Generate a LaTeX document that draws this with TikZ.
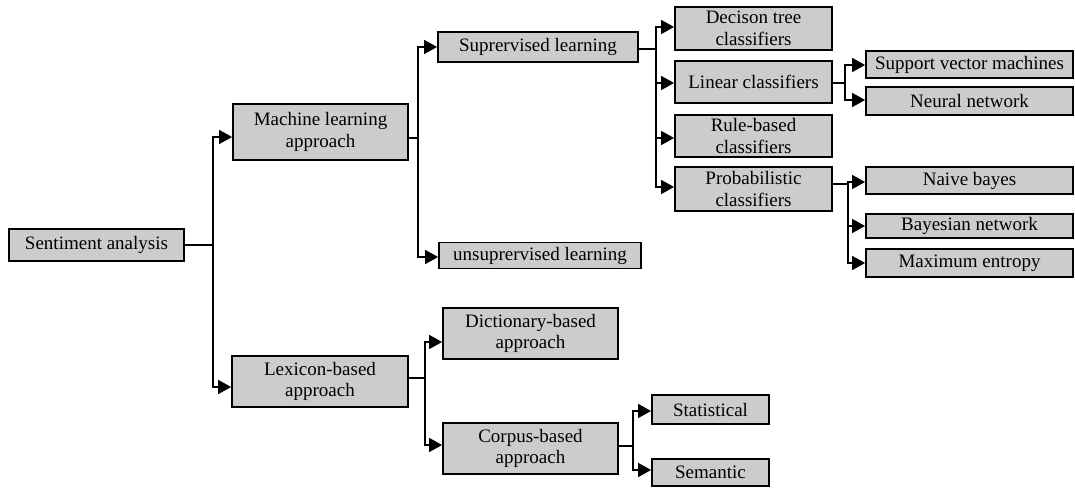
\documentclass[tikz,border=0pt]{standalone}
\usepackage{fontspec}
\setmainfont{Liberation Serif}
\usetikzlibrary{arrows.meta}
\tikzset{
  box/.style={draw=black, fill=black!20, line width=1.8pt, inner sep=0pt, align=center,
    font=\fontsize{19}{21.5}\selectfont},
  line/.style={draw=black, line width=1.6pt},
  arr/.style={line, -{Triangle[length=13pt,width=14pt]}}
}
\begin{document}
\begin{tikzpicture}[x=1pt,y=-1pt]
\useasboundingbox (0,0) rectangle (1075,487);
% nodes
\node[box, minimum width=175, minimum height=32] (sa) at (96.5,245) {Sentiment analysis};
\node[box, minimum width=175, minimum height=56] (ml) at (320.5,132) {Machine learning\\approach};
\node[box, minimum width=176, minimum height=51] (lx) at (320,381.5) {Lexicon-based\\approach};
\node[box, minimum width=200, minimum height=30] (su) at (538,47) {Suprervised learning};
\node[box, minimum width=202, minimum height=26] (un) at (540,255.5) {unsuprervised learning};
\node[box, minimum width=157, minimum height=43] (dt) at (753.5,28.5) {Decison tree\\classifiers};
\node[box, minimum width=157, minimum height=42] (lc) at (753.5,82) {Linear classifiers};
\node[box, minimum width=157, minimum height=42] (rb) at (753.5,136) {Rule-based\\classifiers};
\node[box, minimum width=157, minimum height=44] (pc) at (753.5,189) {Probabilistic\\classifiers};
\node[box, minimum width=207, minimum height=27] (svm) at (969.5,64.5) {Support vector machines};
\node[box, minimum width=207, minimum height=28] (nn) at (969.5,101) {Neural network};
\node[box, minimum width=207, minimum height=27] (nb) at (969.5,180.5) {Naive bayes};
\node[box, minimum width=207, minimum height=24] (bn) at (969.5,226) {Bayesian network};
\node[box, minimum width=207, minimum height=28] (me) at (969.5,263) {Maximum entropy};
\node[box, minimum width=175, minimum height=51] (di) at (530.5,333.5) {Dictionary-based\\approach};
\node[box, minimum width=175, minimum height=51] (co) at (530.5,448.5) {Corpus-based\\approach};
\node[box, minimum width=117, minimum height=29] (st) at (710.5,409.5) {Statistical};
\node[box, minimum width=117, minimum height=27] (se) at (710.5,472.5) {Semantic};
% junctions
\coordinate (j1) at (213,245);
\coordinate (j2) at (418,138);
\coordinate (j3) at (656,49);
\coordinate (j4) at (845,83);
\coordinate (j5) at (848,184);
\coordinate (j6) at (425,378);
\coordinate (j7) at (633,446);
% connectors
\draw[line] (sa.east) -- (j1);
\draw[arr] (j1) |- (ml.west |- 0,137);
\draw[arr] (j1) |- (lx.west |- 0,387);
\draw[line] (ml.east |- j2) -- (j2);
\draw[arr] (j2) |- (su.west |- 0,47);
\draw[arr] (j2) |- (un.west |- 0,257);
\draw[line] (su.east |- j3) -- (j3);
\draw[arr] (j3) |- (dt.west |- 0,27);
\draw[arr] (j3) |- (lc.west |- 0,83);
\draw[arr] (j3) |- (rb.west |- 0,138);
\draw[arr] (j3) |- (pc.west |- 0,187);
\draw[line] (lc.east |- j4) -- (j4);
\draw[arr] (j4) |- (svm.west |- 0,65);
\draw[arr] (j4) |- (nn.west |- 0,100);
\draw[line] (pc.east |- j5) -- (j5);
\draw[arr] (j5) |- (nb.west |- 0,182);
\draw[arr] (j5) |- (bn.west |- 0,226);
\draw[arr] (j5) |- (me.west |- 0,263);
\draw[line] (lx.east |- j6) -- (j6);
\draw[arr] (j6) |- (di.west |- 0,342);
\draw[arr] (j6) |- (co.west |- 0,445);
\draw[line] (co.east |- j7) -- (j7);
\draw[arr] (j7) |- (st.west |- 0,411);
\draw[arr] (j7) |- (se.west |- 0,470);
\end{tikzpicture}
\end{document}
